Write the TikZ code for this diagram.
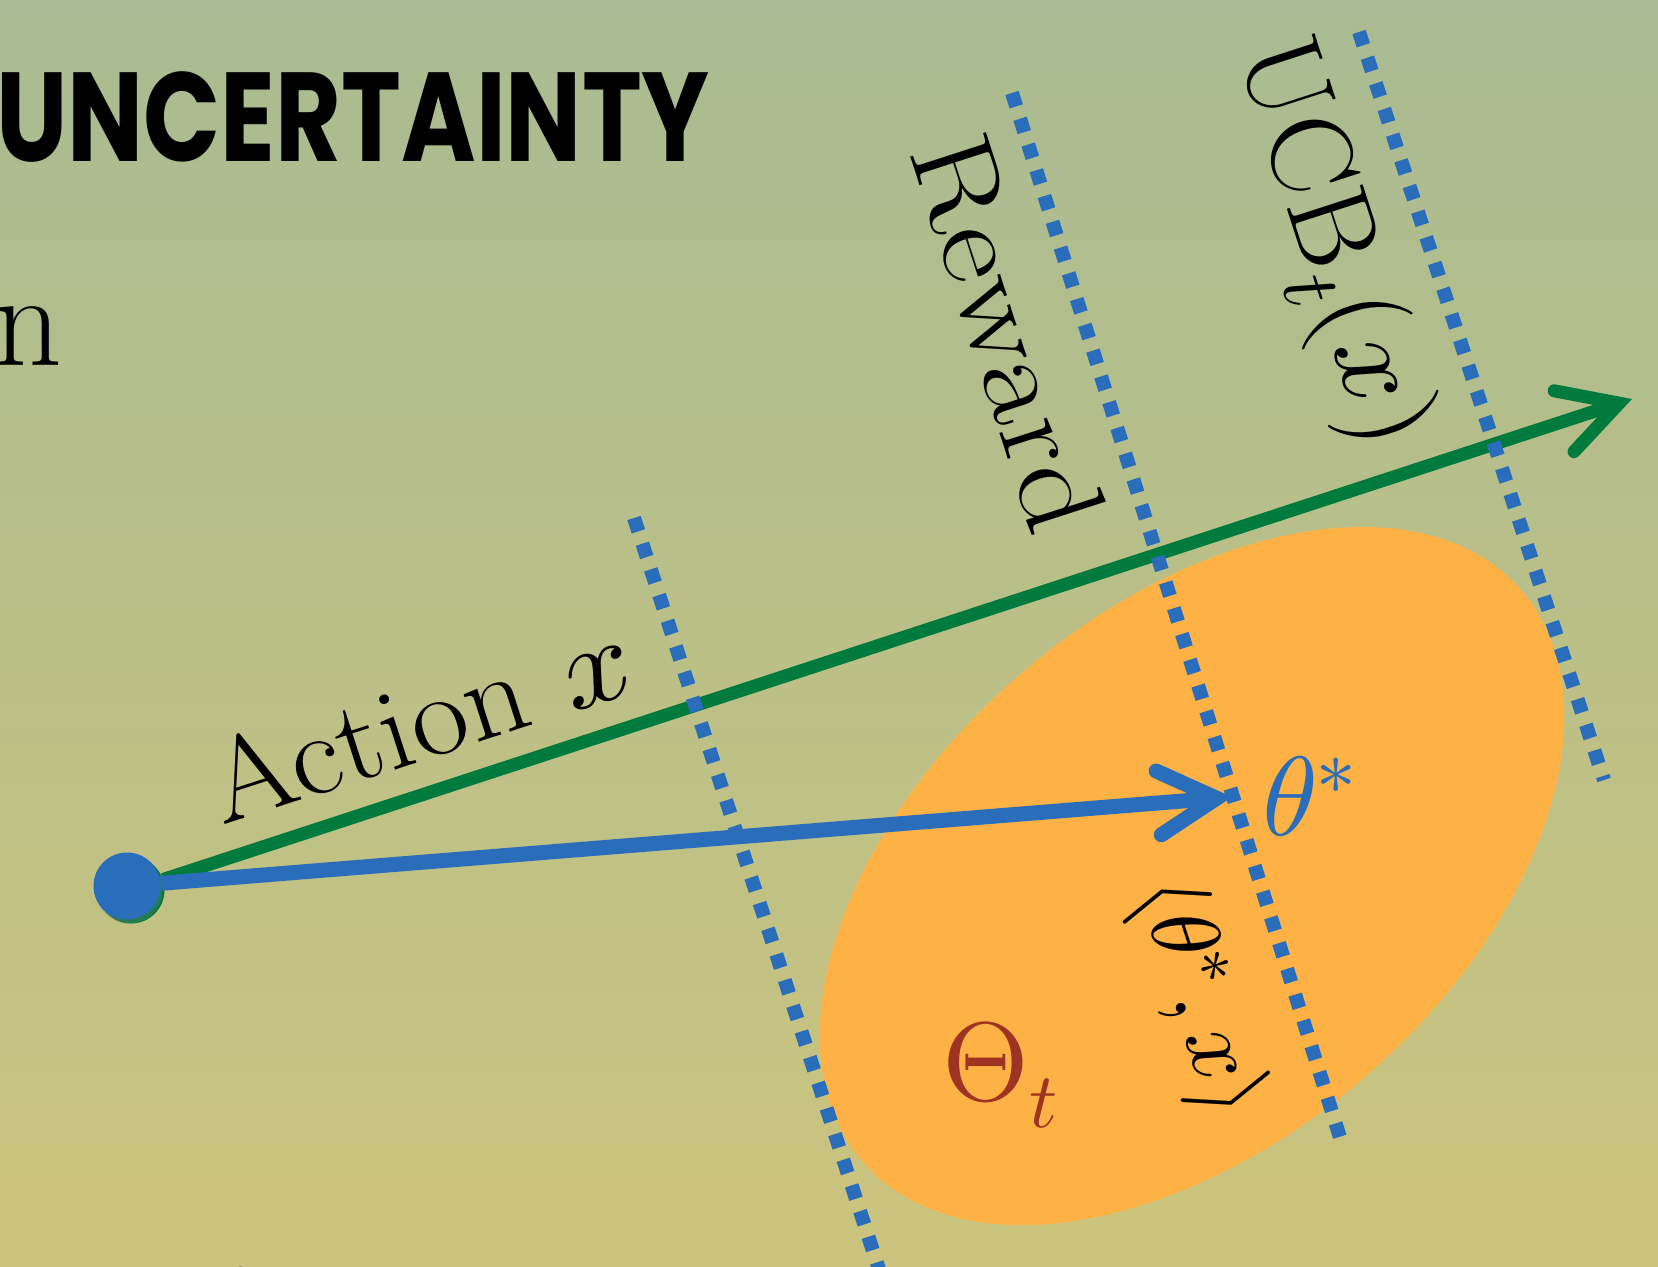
\documentclass[tikz,border=0pt]{standalone}
\usepackage{unicode-math}
\newfontfamily\headfont{Poppins}
\usetikzlibrary{arrows.meta, shadows}
\definecolor{bggreen}{RGB}{169,187,146}
\definecolor{bgyellow}{RGB}{204,196,126}
\definecolor{ucbblue}{RGB}{42,110,187}
\definecolor{actgreen}{RGB}{0,122,61}
\definecolor{setorange}{RGB}{254,178,70}
\definecolor{setred}{RGB}{158,50,35}
\tikzset{
  lbl/.style={inner sep=0pt, font=\fontsize{117}{120}\selectfont},
  levelline/.style={draw=ucbblue, line width=14bp, dash pattern=on 14bp off 13bp},
  shadowed/.style={preaction={draw=black, opacity=.18, transform canvas={shift={(3bp,-4bp)}}}},
  dotmark/.style={circle, inner sep=0pt, minimum size=67bp}
}

\begin{document}
\begin{tikzpicture}[x=1bp, y=-1bp, >={Straight Barb[length=58bp, width=64bp, line cap=round]}]
    \useasboundingbox (0,0) rectangle (1658,1266);
    \clip (0,0) rectangle (1658,1266);
    \fill[top color=bggreen, bottom color=bgyellow] (0,0) rectangle (1658,1266);

    \node[anchor=base east, inner sep=0pt, xscale=.8, font=\headfont\bfseries\fontsize{127}{130}\selectfont] (title) at (710,161) {UNCERTAINTY};
    \node[anchor=base east, inner sep=0pt, font=\fontsize{135}{140}\selectfont] (word1) at (62,365) {n};
    \node[anchor=base west, inner sep=0pt, font=\fontsize{135}{140}\selectfont] (word2) at (221,1360) {l};

    \fill[setorange, rotate around={41:(1192,876)}] (1192,876) ellipse [x radius=436, y radius=265];

    \node[dotmark, fill=actgreen] (origg) at (131,890) {};
    \node[dotmark, fill=ucbblue, drop shadow={shadow xshift=2bp, shadow yshift=-4bp, opacity=.3}] (orig) at (127,886) {};
    \coordinate (xend) at (1632,399);
    \coordinate (thstar) at (1232,797);

    \draw[actgreen, line width=13bp, shadowed, ->] (origg) -- (xend);

    \coordinate (l1a) at (634,518);   \coordinate (l1b) at (889,1300);
    \coordinate (l2a) at (1012,93);   \coordinate (l2b) at (1343,1147);
    \coordinate (l3a) at (1359,32);   \coordinate (l3b) at (1604,780);
    \draw[levelline] (l1a) -- (l1b);
    \draw[levelline] (l2a) -- (l2b);
    \draw[levelline] (l3a) -- (l3b);

    \draw[ucbblue, line width=15bp, shadowed, ->] (orig) -- (thstar);

    \node[lbl, anchor=base west, rotate=17.93, xscale=1.07] (actlbl) at (222,826) {Action $x$};
    \node[lbl, anchor=base west, rotate=-72.07, xscale=1.15] (rewlbl) at (908,150) {Reward};
    \node[lbl, anchor=base west, rotate=-72.07] (ucblbl) at (1237,52) {UCB$_t(x)$};
    \node[inner sep=0pt, font=\fontsize{94}{98}\selectfont, rotate=-72.07] (innerlbl) at (1197,998) {$\langle\theta^*, x\rangle$};
    \node[lbl, anchor=base west, text=ucbblue, font=\fontsize{113}{116}\selectfont] (thlbl) at (1262,835) {$\theta^*$};
    \node[lbl, anchor=base west, text=setred, font=\fontsize{112}{116}\selectfont] (setlbl) at (942,1100) {$\Theta_t$};
\end{tikzpicture}
\end{document}
